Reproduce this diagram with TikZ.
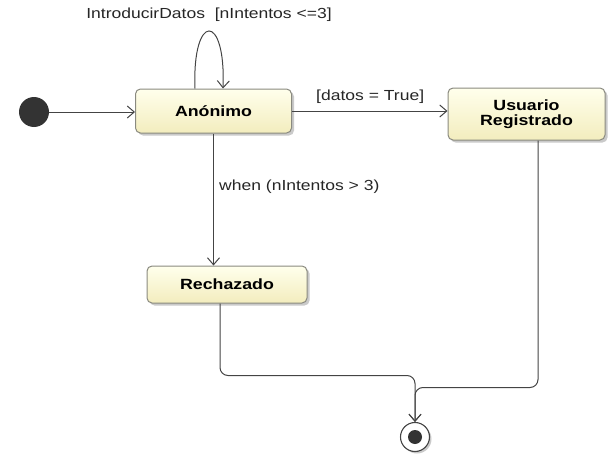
\documentclass[tikz,border=0pt]{standalone}
\usepackage{fontspec}
\setmainfont{Liberation Sans}[FakeStretch=1.2]
\usetikzlibrary{arrows.meta,shadows}
\definecolor{lineg}{HTML}{444444}
\definecolor{boxtop}{HTML}{FFFFEC}
\definecolor{boxbot}{HTML}{F3EDBE}
\definecolor{boxline}{HTML}{8A8A80}
\tikzset{
  state/.style={draw=boxline, line width=1pt, rounded corners=5pt, top color=boxtop, bottom color=boxbot,
    font=\fontsize{14.8}{16}\selectfont\bfseries, align=center, inner sep=0pt,
    drop shadow={shadow xshift=2.5pt, shadow yshift=-2.5pt, fill=black!35, opacity=0.6}},
  trans/.style={draw=lineg, line width=1pt, -{Straight Barb[length=7pt,width=12pt,line width=1pt]}},
  lbl/.style={font=\fontsize{14.6}{16}\selectfont, text=black!85, inner sep=0pt}
}
\begin{document}
\begin{tikzpicture}[x=1pt,y=-1pt]
\useasboundingbox (0,0) rectangle (611,455);
\node[circle, fill=black!80, minimum size=30pt, inner sep=0pt] (init) at (34,112) {};
\node[state, minimum width=156pt, minimum height=44pt] (anon) at (213.5,111) {Anónimo};
\node[state, minimum width=157pt, minimum height=52pt] (usr) at (526.5,114) {Usuario\\[-1pt]Registrado};
\node[state, minimum width=160pt, minimum height=37pt] (rech) at (227,284.5) {Rechazado};
\node[circle, draw=lineg, line width=1.1pt, fill=white, minimum size=29pt, inner sep=0pt,
  drop shadow={shadow xshift=2pt, shadow yshift=-2pt, fill=black!35, opacity=0.6}] (fin) at (415,437) {};
\node[circle, fill=black!80, minimum size=14pt, inner sep=0pt] (finin) at (fin.center) {};

\draw[trans] (init.east) -- (anon.west |- init.east);
\draw[trans] ([xshift=-18.5pt]anon.north) .. controls (192,12) and (226,12) .. ([xshift=9.5pt]anon.north);
\node[lbl] (l1) at (209,15) {IntroducirDatos\ \ [nIntentos <=3]};
\draw[trans] (anon.east |- 0,111) -- (usr.west |- 0,111);
\node[lbl, anchor=west] (l2) at (316,97) {[datos = True]};
\draw[trans] (anon.south) -- (rech.north -| anon.south);
\node[lbl, anchor=west] (l3) at (219,187) {when (nIntentos > 3)};
\draw[trans, rounded corners=8pt] ([xshift=-7pt]rech.south) -- ++(0,72) -| (fin.north);
\draw[trans, rounded corners=8pt] ([xshift=11.5pt]usr.south) -- ++(0,247) -| (fin.north);
\end{tikzpicture}
\end{document}
